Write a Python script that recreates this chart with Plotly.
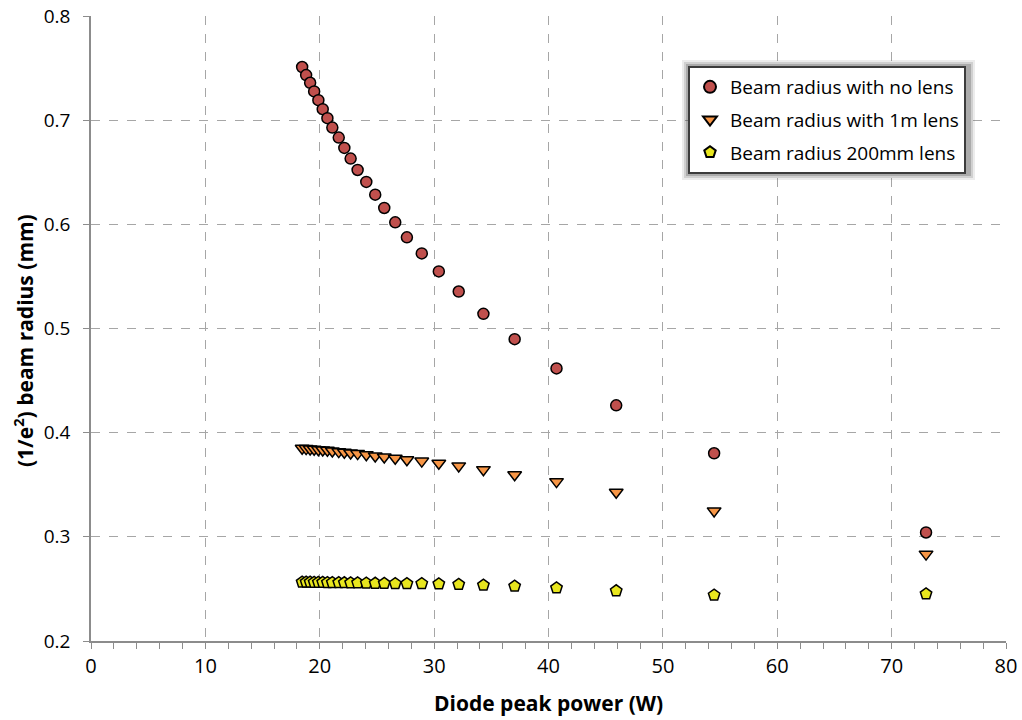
import plotly.graph_objects as go

# Diode peak power (W) at each measurement
power = [18.46, 18.81, 19.16, 19.51, 19.88, 20.26, 20.67, 21.10, 21.66, 22.15,
         22.70, 23.31, 24.07, 24.85, 25.64, 26.60, 27.62, 28.92, 30.41, 32.15,
         34.31, 37.04, 40.70, 45.92, 54.48, 73.01]

# (1/e^2) beam radius (mm) for each configuration
radius_no_lens = [0.751, 0.7433, 0.7359, 0.7276, 0.7192, 0.7106, 0.7019, 0.6929, 0.6833, 0.6734,
                  0.6631, 0.6522, 0.6407, 0.6285, 0.6157, 0.6019, 0.5875, 0.5721, 0.5548, 0.5355,
                  0.5141, 0.4898, 0.4617, 0.4262, 0.3802, 0.3042]
radius_1m_lens = [0.3850, 0.3847, 0.3843, 0.3840, 0.3837, 0.3834, 0.3831, 0.3824, 0.3818, 0.3812,
                  0.3805, 0.3799, 0.3789, 0.3776, 0.3767, 0.3754, 0.3740, 0.3727, 0.3706, 0.3681,
                  0.3645, 0.3596, 0.3530, 0.3428, 0.3249, 0.2834]
radius_200mm_lens = [0.2565, 0.2564, 0.2564, 0.2563, 0.2563, 0.2562, 0.2561, 0.2561, 0.2560, 0.2559,
                     0.2558, 0.2557, 0.2556, 0.2554, 0.2553, 0.2551, 0.2550, 0.2551, 0.2548, 0.2543,
                     0.2536, 0.2526, 0.2510, 0.2482, 0.2441, 0.2452]

series_names = ["Beam radius with no lens", "Beam radius with 1m lens", "Beam radius 200mm lens"]

x_ticks = [0, 10, 20, 30, 40, 50, 60, 70, 80]
y_ticks = [0.2, 0.3, 0.4, 0.5, 0.6, 0.7, 0.8]

x_title = "<b>Diode peak power (W)</b>"
y_title = "<b>(1/e<sup>2</sup>) beam radius (mm)</b>"

FONT = "Open Sans"
GRID = "#a6a6a6"
AXIS = "#8c8c8c"

# plot area in pixels
L, R, T, B = 91, 1006, 16, 641
W, H = R - L, B - T


def px_x(p):
    return (p - L) / W


def px_y(p):
    return 1 - (p - T) / H


fig = go.Figure()

styles = [
    (radius_no_lens, "circle", "#C0504D", 11),
    (radius_1m_lens, "triangle-down", "#F79646", 12),
    (radius_200mm_lens, "pentagon", "#E8E61E", 12),
]
for i, (name, (vals, sym, col, size)) in enumerate(zip(series_names, styles)):
    fig.add_trace(go.Scatter(
        x=power, y=vals, mode="markers", name=name, legendgroup=f"g{i}",
        marker=dict(symbol=sym, color=col, size=size,
                    line=dict(color="#000000", width=1.5)),
    ))

# soft drop shadow around the legend box
box = (688, 66, 966, 171)
for grow, op in [(7, 0.10), (5, 0.16), (3, 0.26)]:
    fig.add_shape(type="rect", xref="paper", yref="paper",
                  x0=px_x(box[0] - grow + 1), x1=px_x(box[2] + grow + 2),
                  y0=px_y(box[3] + grow + 2), y1=px_y(box[1] - grow + 1),
                  fillcolor="#404040", opacity=op, line=dict(width=0), layer="above")

# axis titles
fig.add_annotation(text=x_title, xref="paper", yref="paper", x=0.5, y=px_y(703),
                   xanchor="center", yanchor="middle", showarrow=False,
                   font=dict(family=FONT, size=21, color="#000000"))
fig.add_annotation(text=y_title, xref="paper", yref="paper", x=px_x(23), y=px_y(341),
                   xanchor="center", yanchor="middle", showarrow=False, textangle=-90,
                   font=dict(family=FONT, size=21, color="#000000"))

fig.update_layout(
    width=1022, height=720,
    margin=dict(l=L, r=1022 - R, t=T, b=720 - B, autoexpand=False),
    paper_bgcolor="white", plot_bgcolor="white",
    font=dict(family=FONT, color="#000000"),
    showlegend=True,
    legend=dict(
        x=px_x(box[0]), y=px_y(box[1]),
        xanchor="left", yanchor="top",
        bgcolor="white", bordercolor="#3c3c3c", borderwidth=2,
        font=dict(family=FONT, size=19, color="#000000"),
        itemsizing="constant", tracegroupgap=5, itemwidth=30,
    ),
    xaxis=dict(
        range=[0, 80], tickvals=x_ticks, ticktext=[str(v) for v in x_ticks],
        showgrid=True, gridcolor=GRID, griddash="dash", gridwidth=1,
        showline=True, linecolor=AXIS, linewidth=1.5,
        ticks="outside", ticklen=6, tickcolor=AXIS,
        minor=dict(dtick=2, ticks="outside", ticklen=6, tickcolor=AXIS, showgrid=False),
        tickfont=dict(family=FONT, size=20),
        zeroline=False, automargin=False,
    ),
    yaxis=dict(
        range=[0.2, 0.8], tickvals=y_ticks, ticktext=["%.1f" % v for v in y_ticks],
        showgrid=True, gridcolor=GRID, griddash="dash", gridwidth=1,
        showline=True, linecolor=AXIS, linewidth=1.5,
        ticks="outside", ticklen=6, tickcolor=AXIS, ticklabelstandoff=9,
        tickfont=dict(family=FONT, size=19),
        zeroline=False, automargin=False,
    ),
)

fig.write_html("out.html")
